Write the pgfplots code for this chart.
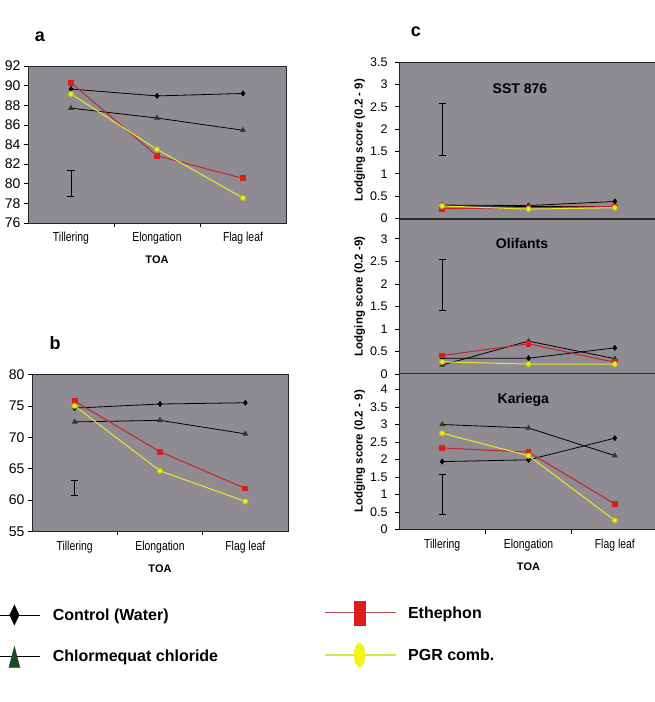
\documentclass[border=0pt]{standalone}
\usepackage{fontspec}
\setmainfont{Liberation Sans}
\newfontfamily\narrowfont[FakeStretch=0.8]{Liberation Sans}
\usepackage{pgfplots}
\pgfplotsset{compat=1.18}
\definecolor{bg}{RGB}{142,139,146}
\definecolor{ethred}{RGB}{222,28,30}
\definecolor{ethline}{RGB}{200,35,45}
\definecolor{pgry}{RGB}{245,242,25}
\definecolor{pgrline}{RGB}{232,232,45}
\definecolor{pgrleg}{RGB}{212,230,70}
\definecolor{ethleg}{RGB}{175,70,75}
\definecolor{ccgreen}{RGB}{25,75,30}
\pgfplotsset{
  panel/.style={
    scale only axis,
    axis background/.style={fill=bg},
    xmin=0.5, xmax=3.5,
    xtick={1.5,2.5}, xticklabels={},
    extra x ticks={1,2,3},
    extra x tick labels={Tillering,Elongation,Flag leaf},
    extra x tick style={major tick length=0pt},
    xtick pos=bottom, ytick pos=left,
    tick align=outside, major tick length=4pt,
    axis line style={black!85, line width=0.7pt},
    every tick/.style={black, line width=0.7pt},
    yticklabel style={font=\fontsize{14}{16}\selectfont},
    xticklabel style={font=\narrowfont\fontsize{13}{15}\selectfont, yshift=-6pt},
    /pgf/number format/assume math mode=true,
    xlabel={TOA},
    xlabel style={font=\fontsize{11}{13}\selectfont\bfseries, at={(axis description cs:0.5,0)}, anchor=center, yshift=-37pt},
    clip=false,
  },
  ctrl/.style={black, line width=0.8pt, mark=diamond*, mark size=2.4pt, mark options={fill=black}},
  chl/.style={black, line width=0.8pt, mark=triangle*, mark size=2.6pt, mark options={fill=ccgreen, draw=black!80}},
  eth/.style={ethline, line width=1pt, mark=square*, mark size=2.4pt, mark options={fill=ethred, draw=ethred}},
  pgr/.style={pgrline, line width=1pt, mark=*, mark size=2.5pt, mark options={fill=pgry, draw=pgry!80!black}},
  ebar/.style={forget plot, mark=none, draw=none, error bars/.cd, y dir=both, y explicit,
    error bar style={black, line width=0.8pt},
    error mark options={rotate=90, mark size=3.5pt, line width=0.8pt, black}},
  cpanel/.style={panel, xmin=0.5, xmax=3.5, width=259pt,
    yticklabel style={font=\fontsize{12.5}{15}\selectfont, xshift=-4pt},
    ylabel style={font=\fontsize{11.5}{14}\selectfont\bfseries, at={(axis description cs:-0.152,0.5)}, rotate=0, anchor=center}},
  cnox/.style={xtick=\empty, extra x ticks={}, xlabel={}},
  leg/.style={hide axis, scale only axis, width=1pt, height=1pt, xmin=0, xmax=1, ymin=0, ymax=1,
    anchor=south west,
    legend style={at={(0,0)}, anchor=west, draw=none, fill=none, inner sep=0pt, outer sep=0pt,
      font=\fontsize{16}{19}\selectfont\bfseries,
      nodes={inner sep=0pt},
      /tikz/every odd column/.append style={column sep=12pt}}},
}
\begin{document}
\begin{tikzpicture}
% ---------- panel a ----------
\begin{axis}[panel, at={(28pt,479pt)}, anchor=south west, width=258pt, height=157pt,
  ymin=76, ymax=92, ytick={76,78,...,92}]
\addplot[ctrl] coordinates {(1,89.65) (2,88.95) (3,89.2)};
\addplot[chl] coordinates {(1,87.7) (2,86.7) (3,85.45)};
\addplot[eth] coordinates {(1,90.3) (2,82.85) (3,80.55)};
\addplot[pgr] coordinates {(1,89.15) (2,83.5) (3,78.55)};
\addplot[ebar] coordinates {(1,80.05) +- (0,1.35)};
\end{axis}
\node[font=\fontsize{18}{20}\selectfont\bfseries] at (40pt,665pt) {a};
% ---------- panel b ----------
\begin{axis}[panel, at={(32pt,170.5pt)}, anchor=south west, width=256pt, height=157pt,
  ymin=55, ymax=80, ytick={55,60,...,80}]
\addplot[ctrl] coordinates {(1,74.65) (2,75.3) (3,75.5)};
\addplot[chl] coordinates {(1,72.45) (2,72.7) (3,70.55)};
\addplot[eth] coordinates {(1,75.75) (2,67.7) (3,61.85)};
\addplot[pgr] coordinates {(1,75.0) (2,64.65) (3,59.8)};
\addplot[ebar] coordinates {(1,61.9) +- (0,1.2)};
\end{axis}
\node[font=\fontsize{18}{20}\selectfont\bfseries] at (55pt,359pt) {b};
% ---------- panel c : SST 876 ----------
\begin{axis}[cpanel, cnox, at={(399pt,483.5pt)}, anchor=south west, height=156.5pt,
  ymin=0, ymax=3.5, ytick={0,0.5,...,3.5}, ylabel={Lodging score (0.2 - 9)},
  axis line style={black!85, line width=0.5pt}]
\addplot[ctrl] coordinates {(1,0.30) (2,0.29) (3,0.38)};
\addplot[chl] coordinates {(1,0.28) (2,0.27) (3,0.27)};
\addplot[eth] coordinates {(1,0.22) (2,0.24) (3,0.27)};
\addplot[pgr] coordinates {(1,0.28) (2,0.21) (3,0.24)};
\addplot[ebar] coordinates {(1,1.995) +- (0,0.575)};
\node[font=\fontsize{14}{16}\selectfont\bfseries] at (rel axis cs:0.467,0.83) {SST 876};
\end{axis}
% ---------- panel c : Olifants ----------
\begin{axis}[cpanel, cnox, at={(399pt,328pt)}, anchor=south west, height=155pt,
  ymin=0, ymax=3.44, ytick={0,0.5,...,3}, ylabel={Lodging score (0.2 -9)},
  axis line style={black!85, line width=0.5pt}]
\addplot[ctrl] coordinates {(1,0.35) (2,0.35) (3,0.58)};
\addplot[chl] coordinates {(1,0.20) (2,0.73) (3,0.34)};
\addplot[eth] coordinates {(1,0.41) (2,0.67) (3,0.26)};
\addplot[pgr] coordinates {(1,0.27) (2,0.22) (3,0.22)};
\addplot[ebar] coordinates {(1,1.985) +- (0,0.565)};
\node[font=\fontsize{14}{16}\selectfont\bfseries] at (rel axis cs:0.475,0.84) {Olifants};
\end{axis}
% ---------- panel c : Kariega ----------
\begin{axis}[cpanel, at={(399pt,172.5pt)}, anchor=south west, height=156pt,
  ymin=0, ymax=4.457, ytick={0,0.5,...,4}, ylabel={Lodging score (0.2 - 9)}]
\addplot[ctrl] coordinates {(1,1.94) (2,1.99) (3,2.61)};
\addplot[chl] coordinates {(1,3.0) (2,2.9) (3,2.11)};
\addplot[eth] coordinates {(1,2.33) (2,2.21) (3,0.73)};
\addplot[pgr] coordinates {(1,2.75) (2,2.11) (3,0.26)};
\addplot[ebar] coordinates {(1,0.995) +- (0,0.565)};
\node[font=\fontsize{14}{16}\selectfont\bfseries] at (rel axis cs:0.48,0.83) {Kariega};
\end{axis}
\node[font=\fontsize{18}{20}\selectfont\bfseries] at (416pt,670pt) {c};
% ---------- legend ----------
\begin{axis}[leg, at={(0pt,87pt)}]
\addlegendimage{legend image code/.code={
  \draw[black, line width=0.8pt] (0pt,0pt) -- (40pt,0pt);
  \fill[black] (14pt,10pt) -- (18.7pt,0pt) -- (14pt,-10pt) -- (9.3pt,0pt) -- cycle;}}
\addlegendentry{Control (Water)}
\end{axis}
\begin{axis}[leg, at={(0pt,45pt)}]
\addlegendimage{legend image code/.code={
  \draw[black, line width=0.8pt] (0pt,0pt) -- (40pt,0pt);
  \fill[ccgreen] (14pt,10pt) -- (19.5pt,-11pt) -- (8.5pt,-11pt) -- cycle;}}
\addlegendentry{Chlormequat chloride}
\end{axis}
\begin{axis}[leg, at={(324pt,89pt)}]
\addlegendimage{legend image code/.code={
  \draw[ethleg, line width=1pt] (0pt,0pt) -- (71pt,0pt);
  \fill[ethred] (29.5pt,-12pt) rectangle (40.5pt,12pt);}}
\addlegendentry{Ethephon}
\end{axis}
\begin{axis}[leg, at={(324pt,47pt)}]
\addlegendimage{legend image code/.code={
  \draw[pgrleg, line width=1.2pt] (0pt,0pt) -- (71pt,0pt);
  \fill[pgry] (35pt,0pt) ellipse [x radius=5.5pt, y radius=12pt];}}
\addlegendentry{PGR comb.}
\end{axis}
\pgfresetboundingbox
\path[use as bounding box] (0pt,0pt) rectangle (654pt,702pt);
\end{tikzpicture}
\end{document}
